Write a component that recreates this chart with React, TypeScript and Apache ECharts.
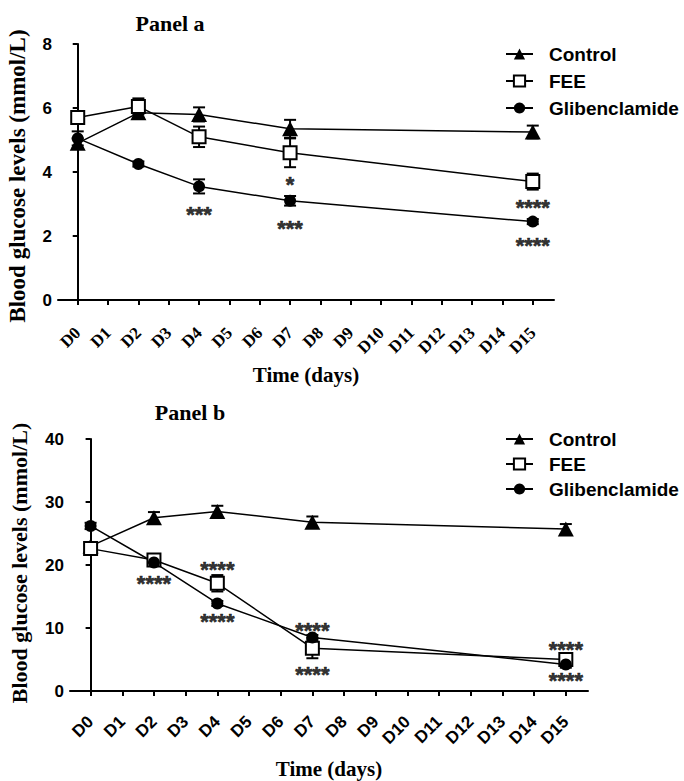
import React, { useEffect, useRef } from "react";
import * as echarts from "echarts";

const days = [0, 2, 4, 7, 15];
const tickDays = [0, 1, 2, 3, 4, 5, 6, 7, 8, 9, 10, 11, 12, 13, 14, 15];
const seriesNames = ["Control", "FEE", "Glibenclamide"];

// Panel a (mmol/L)
const controlA = [4.9, 5.85, 5.8, 5.35, 5.25];
const controlAErr = [0.15, 0.15, 0.22, 0.28, 0.2];
const feeA = [5.7, 6.05, 5.1, 4.6, 3.7];
const feeAErr = [0.12, 0.25, 0.32, 0.45, 0.25];
const glibA = [5.05, 4.25, 3.55, 3.1, 2.45];
const glibAErr = [0.22, 0.08, 0.22, 0.15, 0.08];
const yTicksA = [0, 8, 2];

// Panel b (mmol/L)
const controlB = [23.0, 27.5, 28.5, 26.8, 25.7];
const controlBErr = [0.6, 0.9, 0.9, 0.9, 0.8];
const feeB = [22.6, 20.8, 17.1, 6.8, 5.0];
const feeBErr = [0.5, 0.8, 1.3, 1.6, 0.6];
const glibB = [26.2, 20.4, 13.9, 8.5, 4.2];
const glibBErr = [0.5, 0.5, 0.4, 0.4, 0.5];
const yTicksB = [0, 40, 10];

// Significance marks: [day, value, text]
const marksA: [number, number, string][] = [
  [4, 2.81, "***"],
  [7, 2.375, "***"],
  [7, 3.73, "*"],
  [15, 3.02, "****"],
  [15, 1.82, "****"],
];
const marksB: [number, number, string][] = [
  [2, 17.7, "****"],
  [4, 19.95, "****"],
  [4, 11.67, "****"],
  [7, 10.19, "****"],
  [7, 3.18, "****"],
  [15, 7.16, "****"],
  [15, 2.23, "****"],
];

const SANS = "'Liberation Sans', Arial, sans-serif";
const SERIF = "'Liberation Serif', 'Times New Roman', serif";

function pairs(vals: number[]) {
  return days.map((d, i) => [d, vals[i]]);
}
function errPairs(vals: number[], errs: number[]) {
  return days.map((d, i) => [d, vals[i], errs[i]]);
}

const errorRender = (params: any, api: any) => {
  const x = api.value(0);
  const y = api.value(1);
  const e = api.value(2);
  const top = api.coord([x, y + e]);
  const bot = api.coord([x, y - e]);
  const hw = 6;
  const style = { stroke: "#000", lineWidth: 2 };
  return {
    type: "group",
    children: [
      { type: "line", shape: { x1: top[0], y1: top[1], x2: bot[0], y2: bot[1] }, style },
      { type: "line", shape: { x1: top[0] - hw, y1: top[1], x2: top[0] + hw, y2: top[1] }, style },
      { type: "line", shape: { x1: bot[0] - hw, y1: bot[1], x2: bot[0] + hw, y2: bot[1] }, style },
    ],
  };
};

function panelSeries(
  idx: number,
  ctrl: number[],
  ctrlErr: number[],
  fee: number[],
  feeErr: number[],
  glib: number[],
  glibErr: number[],
  marks: [number, number, string][]
) {
  const common = {
    type: "line",
    xAxisIndex: idx,
    yAxisIndex: idx,
    lineStyle: { color: "#000", width: 1.5 },
    z: 3,
  };
  const err = (d: any[]) => ({
    type: "custom",
    xAxisIndex: idx,
    yAxisIndex: idx,
    renderItem: errorRender,
    data: d,
    z: 2,
    silent: true,
  });
  return [
    err(errPairs(ctrl, ctrlErr)),
    err(errPairs(fee, feeErr)),
    err(errPairs(glib, glibErr)),
    {
      ...common,
      name: seriesNames[0],
      symbol: "triangle",
      symbolSize: [16, 15],
      itemStyle: { color: "#000" },
      data: pairs(ctrl),
    },
    {
      ...common,
      name: seriesNames[1],
      symbol: "rect",
      symbolSize: 13,
      itemStyle: { color: "#fff", borderColor: "#000", borderWidth: 2 },
      data: pairs(fee),
    },
    {
      ...common,
      name: seriesNames[2],
      symbol: "circle",
      symbolSize: 12,
      itemStyle: { color: "#000" },
      data: pairs(glib),
    },
    {
      type: "scatter",
      xAxisIndex: idx,
      yAxisIndex: idx,
      symbolSize: 1,
      itemStyle: { color: "rgba(0,0,0,0)" },
      silent: true,
      z: 5,
      data: marks.map((m) => ({ value: [m[0], m[1]], name: m[2] })),
      label: {
        show: true,
        position: "inside",
        formatter: "{b}",
        fontSize: 22,
        fontWeight: "bold",
        fontFamily: SANS,
        color: "#000",
        textBorderColor: "#000",
        textBorderWidth: 0.6,
        offset: [0, 4],
      },
    },
  ];
}

function xAxisFor(idx: number, font: string, margin: number) {
  return {
    type: "value",
    gridIndex: idx,
    min: -0.65,
    max: 15.7,
    splitLine: { show: false },
    axisLine: { show: true, onZero: false, lineStyle: { color: "#000", width: 2 } },
    axisTick: { show: true, customValues: tickDays, length: 5, lineStyle: { color: "#000", width: 2 } },
    axisLabel: {
      customValues: tickDays,
      rotate: 45,
      margin,
      formatter: (v: number) => "D" + v,
      fontSize: 17,
      fontWeight: "bold",
      fontFamily: font,
      color: "#000",
    },
  };
}

function yAxisFor(idx: number, ticks: number[]) {
  return {
    type: "value",
    gridIndex: idx,
    min: ticks[0],
    max: ticks[1],
    interval: ticks[2],
    splitLine: { show: false },
    axisLine: { show: true, lineStyle: { color: "#000", width: 2 } },
    axisTick: { show: true, length: 5, lineStyle: { color: "#000", width: 2 } },
    axisLabel: {
      margin: 6,
      fontSize: 17,
      fontWeight: "bold",
      fontFamily: SANS,
      color: "#000",
    },
  };
}

function legendFor(left: number, top: number, gap: number) {
  return {
    orient: "vertical",
    left,
    top,
    itemWidth: 27,
    itemHeight: 14,
    itemGap: gap,
    data: seriesNames,
    selectedMode: false,
    textStyle: {
      fontSize: 19,
      fontWeight: "bold",
      fontFamily: SANS,
      color: "#000",
      lineHeight: 20,
      padding: [0, 0, 0, 11],
    },
  };
}

function txt(x: number, y: number, text: string, size: number, rot = 0) {
  return {
    type: "text",
    x,
    y,
    rotation: rot,
    style: {
      text,
      fontSize: size,
      fontWeight: "bold",
      fontFamily: SERIF,
      fill: "#000",
      align: "center",
      verticalAlign: "middle",
    },
  };
}

export default function App() {
  const ref = useRef<HTMLDivElement>(null);
  useEffect(() => {
    if (!ref.current) return;
    const chart = echarts.init(ref.current, null, { renderer: "svg" });
    chart.setOption({
      animation: false,
      backgroundColor: "#fff",
      grid: [
        { left: 58, top: 44, width: 496, height: 256 },
        { left: 70, top: 439, width: 518, height: 252 },
      ],
      xAxis: [xAxisFor(0, SERIF, 30), xAxisFor(1, SANS, 28)],
      yAxis: [yAxisFor(0, yTicksA), yAxisFor(1, yTicksB)],
      legend: [legendFor(500, 39, 7), legendFor(500, 424, 5)],
      series: [
        ...panelSeries(0, controlA, controlAErr, feeA, feeAErr, glibA, glibAErr, marksA),
        ...panelSeries(1, controlB, controlBErr, feeB, feeBErr, glibB, glibBErr, marksB),
      ],
      graphic: [
        txt(170, 23, "Panel a", 22),
        txt(190, 412, "Panel b", 22),
        txt(306, 375, "Time (days)", 21),
        txt(329, 769, "Time (days)", 21),
        txt(17, 176, "Blood glucose levels (mmol/L)", 23, Math.PI / 2),
        txt(19, 563, "Blood glucose levels (mmol/L)", 22, Math.PI / 2),
      ],
    });
    return () => chart.dispose();
  }, []);
  return (
    <div
      ref={ref}
      style={{ position: "absolute", left: 0, top: 0, width: 684, height: 781, background: "#fff" }}
    />
  );
}
